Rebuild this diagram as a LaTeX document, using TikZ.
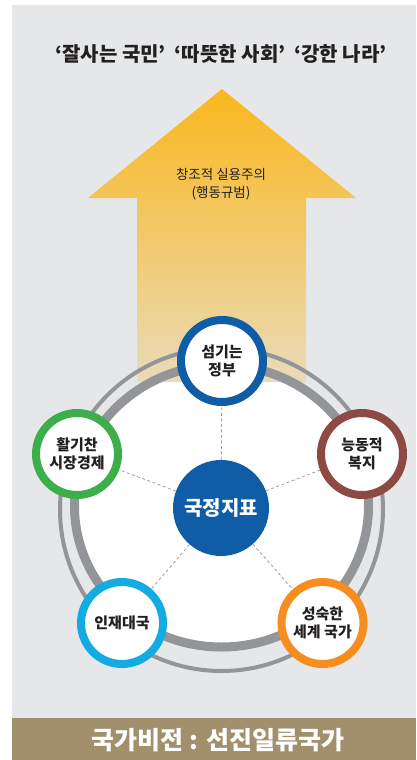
\documentclass[tikz,border=0pt]{standalone}
\usepackage{fontspec}
\setmainfont{Noto Sans CJK KR}
\usetikzlibrary{shadings}
\definecolor{bg}{HTML}{E6E7E8}
\definecolor{barc}{HTML}{A2906D}
\definecolor{ringc}{HTML}{939598}
\definecolor{txt}{HTML}{231F20}
\definecolor{cblue}{HTML}{0F5DA6}
\definecolor{cgreen}{HTML}{3DAE49}
\definecolor{cbrown}{HTML}{8C4A43}
\definecolor{ccyan}{HTML}{12ACE2}
\definecolor{corange}{HTML}{F58E1F}
\definecolor{arrtop}{HTML}{FAB71E}
\definecolor{arrbot}{HTML}{E9DBB8}
\begin{document}
\begin{tikzpicture}[x=1pt,y=-1pt,
  goal/.style={circle, draw=#1, line width=8pt, fill=white, minimum size=82pt, inner sep=0pt,
    align=center, text=txt, font=\fontsize{15pt}{18pt}\selectfont\bfseries},
  hub/.style={circle, fill=cblue, minimum size=96pt, inner sep=0pt, text=white,
    font=\fontsize{20pt}{24pt}\selectfont\bfseries},
  dashline/.style={draw=gray!75, dashed, dash pattern=on 3pt off 2.5pt, line width=0.8pt}]
\useasboundingbox (0,0) rectangle (416,760);
\fill[white] (0,0) rectangle (416,760);
\fill[bg] (12,5) rectangle (416,718);
\fill[barc] (12,718) rectangle (416,760);
% white interior
\fill[white] (221.5,506) ellipse [x radius=147pt, y radius=141pt];
% arrow
\shade[top color=arrtop, bottom color=arrbot]
  (222,89) -- (356,198) -- (306,198) -- (306,382) -- (137,382) -- (137,198) -- (88,198) -- cycle;
% rings
\draw[ringc, line width=4pt] (221.5,509.5) circle [radius=161.5pt];
\draw[ringc, line width=9pt] (221.5,506) ellipse [x radius=147pt, y radius=141pt];
% nodes
\node[hub] (c) at (221,508) {국정지표};
\node[goal=cblue] (n1) at (222,361) {섬기는\\정부};
\node[goal=cgreen] (n2) at (77,454) {활기찬\\시장경제};
\node[goal=cbrown] (n3) at (362,454) {능동적\\복지};
\node[goal=ccyan] (n4) at (122,623) {인재대국};
\node[goal=corange] (n5) at (322.5,623) {성숙한\\세계 국가};
\foreach \n in {n1,n2,n3,n4,n5} \draw[dashline] (c) -- (\n);
% texts
\node[text=txt, font=\fontsize{20pt}{24pt}\selectfont\bfseries] (title) at (221,54)
  {‘잘사는 국민’\hspace{9pt}‘따뜻한 사회’\hspace{9pt}‘강한 나라’};
\node[text=txt, align=center, font=\fontsize{13.5pt}{18pt}\selectfont] (norm) at (221,184) {창조적 실용주의\\(행동규범)};
\node[text=white, font=\fontsize{25pt}{28pt}\selectfont\bfseries] (vision) at (218,740) {국가비전 : 선진일류국가};
\end{tikzpicture}
\end{document}
